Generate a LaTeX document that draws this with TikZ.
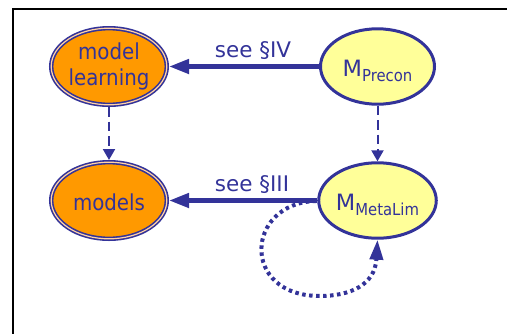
\documentclass[tikz,border=0pt]{standalone}
\usepackage{fontspec}
\setmainfont{DejaVu Sans}
\newfontfamily\condfont{DejaVu Sans Condensed}
\usetikzlibrary{shapes.geometric,arrows.meta}
\definecolor{navy}{RGB}{51,51,153}
\definecolor{fillorange}{RGB}{255,153,0}
\definecolor{fillyellow}{RGB}{255,255,153}
% M with a smaller, lowered subscript name
\newcommand\Mname[1]{{\fontsize{22.5}{26}\selectfont M\raisebox{-4.5pt}{\condfont\fontsize{16.5}{19}\selectfont #1}}}

\begin{document}
\begin{tikzpicture}[x=1pt,y=-1pt,
  every node/.style={inner sep=0pt,text=navy},
  learnnode/.style={ellipse, draw=navy, line width=1.6pt, double=orange!35,
    double distance=1.2pt, fill=fillorange, minimum width=115.6pt, minimum height=76.6pt,
    outer sep=2.2pt, font=\condfont\fontsize{22}{26}\selectfont, align=center},
  metanode/.style={ellipse, draw=navy, line width=3pt, fill=fillyellow,
    minimum width=114pt, minimum height=75.4pt, outer sep=1.5pt,
    text height=20pt, text depth=0pt},
  mainarrow/.style={navy, line width=4.5pt, -{Triangle[length=20pt,width=14pt]}},
  derivearrow/.style={navy, line width=2pt, dash pattern=on 9.5pt off 5pt,
    -{Triangle[length=11pt,width=12pt]}},
  looparrow/.style={navy, line width=4pt, dash pattern=on 3.5pt off 3.5pt,
    -{Triangle[length=20pt,width=13pt]}},
  seelabel/.style={anchor=base, font=\fontsize{21.5}{26}\selectfont}
]
\useasboundingbox (0,0) rectangle (507,333);

% frame
\draw[black, line width=2pt] (13,340) -- (13,9) -- (515,9);

% nodes
\node[learnnode] (learn) at (109,66.5) {model\\learning};
\node[learnnode, text height=19pt, text depth=0pt] (models) at (109,200.5) {models};
\node[metanode] (precon) at (377.5,66.5) {\Mname{Precon}};
\node[metanode] (metalim) at (377.5,200.5) {\Mname{MetaLim}};

% connectors
\draw[mainarrow] (precon.west) -- (learn.east);
\draw[mainarrow] (metalim.west) -- (models.east);
\draw[derivearrow] (learn.south) -- (models.north);
\draw[derivearrow] (precon.south) -- (metalim.north);

\node[seelabel] (seeIV) at (253,57) {see §IV};
\node[seelabel] (seeIII) at (252,191) {see §III};

% self loop of M_MetaLim
\coordinate (loopstart) at (316,201);
\draw[looparrow] (loopstart) .. controls (245,203) and (240,296) .. (320,296)
  .. controls (350,296) and (375,285) .. (metalim.south);
\end{tikzpicture}
\end{document}
